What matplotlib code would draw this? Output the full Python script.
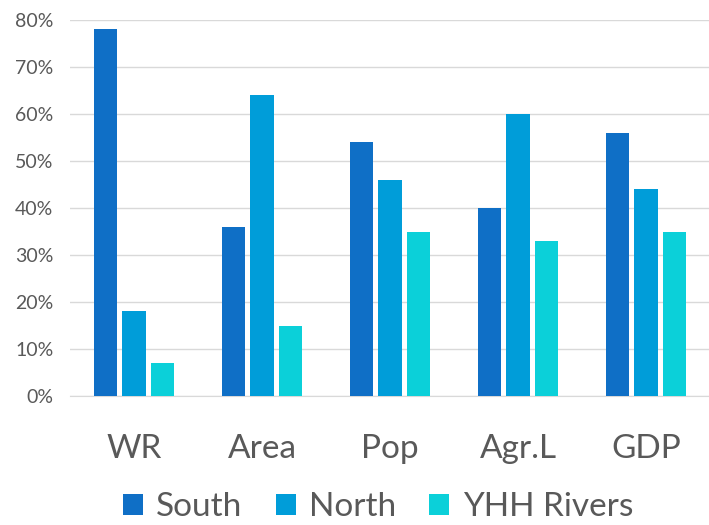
import numpy as np
import matplotlib.pyplot as plt
from matplotlib.ticker import PercentFormatter

plt.rcParams['font.family'] = ['Lato', 'DejaVu Sans']

categories = ['WR', 'Area', 'Pop', 'Agr.L', 'GDP']
south = [0.78, 0.36, 0.54, 0.40, 0.56]
north = [0.18, 0.64, 0.46, 0.60, 0.44]
yhh = [0.07, 0.15, 0.35, 0.33, 0.35]

series = [('South', south, '#0F6FC6'),
          ('North', north, '#009DD9'),
          ('YHH Rivers', yhh, '#0BD0D9')]

text_color = '#595959'
grid_color = '#D9D9D9'

fig = plt.figure(figsize=(7.09, 5.25), dpi=100)
ax = fig.add_axes([70 / 709, 129 / 525, 640 / 709, 376 / 525])

x = np.arange(len(categories))
width = 0.18
step = 0.22
for i, (name, vals, color) in enumerate(series):
    ax.bar(x + (i - 1) * step, vals, width, color=color, label=name, zorder=3)

ax.set_xlim(-0.5, len(categories) - 0.5)
ax.set_ylim(0, 0.8)
ax.set_yticks(np.arange(0, 0.81, 0.1))
ax.yaxis.set_major_formatter(PercentFormatter(1.0, decimals=0))
ax.grid(axis='y', color=grid_color, linewidth=1, zorder=0)
ax.set_xticks(x)
ax.set_xticklabels(categories)

for s in ['top', 'right', 'left']:
    ax.spines[s].set_visible(False)
ax.spines['bottom'].set_color(grid_color)
ax.tick_params(axis='both', length=0, colors=text_color)
ax.tick_params(axis='y', labelsize=14, pad=12)
ax.tick_params(axis='x', labelsize=24, pad=27)

ax.legend(loc='center', bbox_to_anchor=(378 / 709, 18 / 525),
          bbox_transform=fig.transFigure, ncol=3, frameon=False,
          fontsize=24, labelcolor=text_color, handlelength=0.6,
          handleheight=0.6, handletextpad=0.4, columnspacing=1.0,
          borderpad=0.1)

fig.savefig('out.png', dpi=100)
